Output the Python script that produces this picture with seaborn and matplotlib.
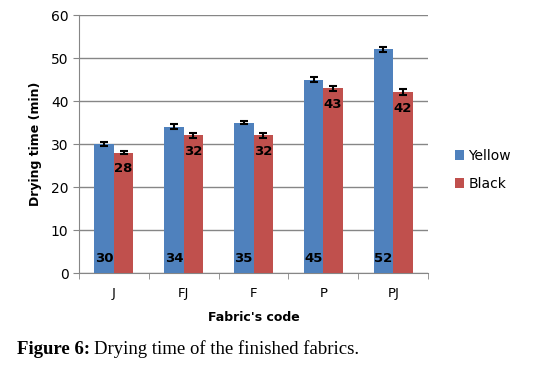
import pandas as pd
import seaborn as sns
import matplotlib.pyplot as plt
from matplotlib.ticker import FixedLocator

# Données
codes = ["J", "FJ", "F", "P", "PJ"]
yellow = [30, 34, 35, 45, 52]
black = [28, 32, 32, 43, 42]
yellow_err = [0.5, 0.6, 0.3, 0.6, 0.6]
black_err = [0.3, 0.5, 0.6, 0.6, 0.7]

df = pd.DataFrame({
    "code": codes * 2,
    "time": yellow + black,
    "series": ["Yellow"] * 5 + ["Black"] * 5,
})

sns.set_style("white")
plt.rcParams['font.family'] = ['DejaVu Sans']
plt.rcParams['text.color'] = 'black'
plt.rcParams['axes.labelcolor'] = 'black'
plt.rcParams['xtick.color'] = 'black'
plt.rcParams['ytick.color'] = 'black'

fig = plt.figure(figsize=(5.59, 3.68), dpi=100)
ax = fig.add_axes([0.141, 0.258, 0.625, 0.701])

sns.barplot(data=df, x="code", y="time", hue="series", order=codes,
            hue_order=["Yellow", "Black"], palette=["#4F81BD", "#C0504D"],
            errorbar=None, width=0.56, saturation=1, linewidth=0,
            ax=ax, zorder=3)

# barres d'erreur + étiquettes
for cont, errs, vals, where in zip(ax.containers, [yellow_err, black_err],
                                   [yellow, black], ["base", "top"]):
    xs = [p.get_x() + p.get_width() / 2 for p in cont.patches]
    ax.errorbar(xs, vals, yerr=errs, fmt="none", ecolor="black",
                elinewidth=1.5, capsize=3, capthick=1.5, zorder=4)
    for x, v in zip(xs, vals):
        y = 3.4 if where == "base" else v - 3.7
        ax.text(x, y, str(v), ha="center", va="center", color="black",
                fontsize=9.5, fontweight="bold", zorder=5)

ax.set_ylim(0, 60)
ax.set_yticks(range(0, 61, 10))
ax.set_xlim(-0.5, 4.5)
ax.yaxis.grid(True, color="#868686", linewidth=1, zorder=0)
for s in ["top", "right"]:
    ax.spines[s].set_visible(False)
for s in ["left", "bottom"]:
    ax.spines[s].set_color("#868686")
ax.tick_params(axis="y", length=4, color="#868686", labelcolor="black",
               labelsize=10, direction="out", left=True)
ax.tick_params(axis="x", which="major", length=0, labelsize=9.5, pad=10)
ax.xaxis.set_minor_locator(FixedLocator([-0.5, 0.5, 1.5, 2.5, 3.5, 4.5]))
ax.tick_params(axis="x", which="minor", length=4, color="#868686",
               direction="out", bottom=True)

ax.set_xlabel("Fabric's code", fontsize=9, fontweight="bold", labelpad=8)
ax.set_ylabel("Drying time (min)", fontsize=9, fontweight="bold", labelpad=6)

ax.legend(loc="center left", bbox_to_anchor=(1.04, 0.40), frameon=False,
          fontsize=10, handlelength=0.7, handleheight=0.7, handletextpad=0.3,
          labelspacing=1.0)

# légende de la figure (titre en dessous)
t1 = fig.text(0.03, 0.038, "Figure 6:", fontsize=13.5, fontweight="bold",
              family="Liberation Serif")
fig.canvas.draw()
bb = t1.get_window_extent().transformed(fig.transFigure.inverted())
fig.text(bb.x1 + 0.008, 0.038, "Drying time of the finished fabrics.",
         fontsize=13.5, family="Liberation Serif")

plt.savefig("out.png", dpi=100)
plt.close()
